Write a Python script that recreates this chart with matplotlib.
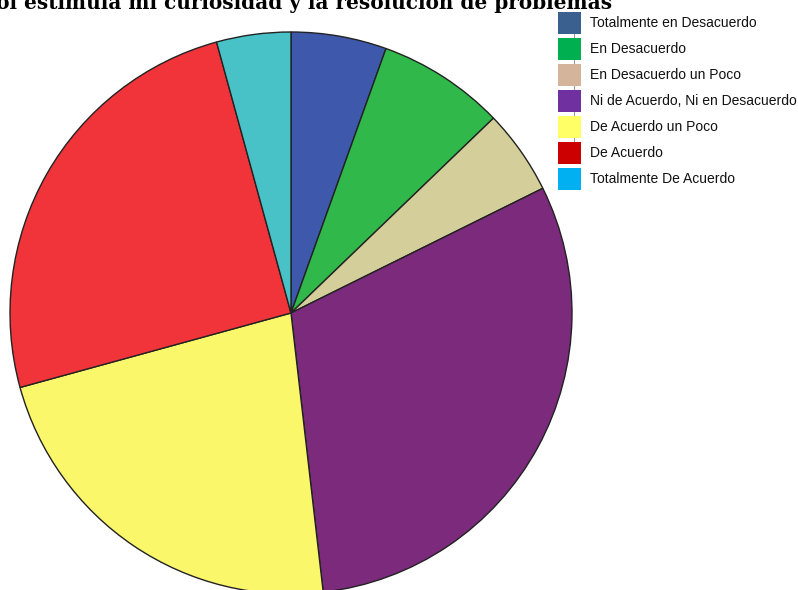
import matplotlib
matplotlib.use('Agg')
import matplotlib.pyplot as plt
from matplotlib.patches import Rectangle

TITLE = 'El fútbol estimula mi curiosidad y la resolución de problemas'

labels = [
    'Totalmente en Desacuerdo',
    'En Desacuerdo',
    'En Desacuerdo un Poco',
    'Ni de Acuerdo, Ni en Desacuerdo',
    'De Acuerdo un Poco',
    'De Acuerdo',
    'Totalmente De Acuerdo',
]
counts = [9, 12, 8, 50, 37, 41, 7]

# slice fills and legend swatches use different palettes
slice_colors = ['#3e58ac', '#30b84a', '#d4cf9a', '#7b2a7c', '#fbf76b', '#f0343a', '#48c2c6']
swatch_colors = ['#3a6090', '#00b050', '#d4b49a', '#7030a0', '#ffff66', '#cc0000', '#00b0f0']

W, H = 798, 590
fig = plt.figure(figsize=(W / 100, H / 100), dpi=100)
ax = fig.add_axes([0, 0, 1, 1])

ax.pie(counts, colors=slice_colors, startangle=90, counterclock=False,
       center=(291, H - 313), radius=281,
       wedgeprops=dict(edgecolor='#222222', linewidth=1.0))

ax.set_xlim(0, W)
ax.set_ylim(0, H)
ax.set_aspect('equal')
ax.axis('off')

# title sits partly above the canvas
ax.text(612, H - 9, TITLE, ha='right', va='baseline', fontsize=14.4,
        fontweight='bold', family='DejaVu Serif', color='black', clip_on=False)

# hand-placed legend on the right
sx, sw, sh, step, top = 558, 23, 22, 26, 12
ax.plot([574, 574], [H - top - sh / 2, H - top - 5 * step - sh / 2],
        color='#999999', linewidth=0.8, zorder=1)
for i, (lab, col) in enumerate(zip(labels, swatch_colors)):
    y0 = H - top - i * step - sh
    ax.add_patch(Rectangle((sx, y0), sw, sh, facecolor=col, edgecolor='none', zorder=2))
    ax.text(590, y0 + sh / 2, lab, ha='left', va='center', fontsize=10.0,
            family='Liberation Sans', color='#111111')

fig.savefig('out.png', dpi=100)
